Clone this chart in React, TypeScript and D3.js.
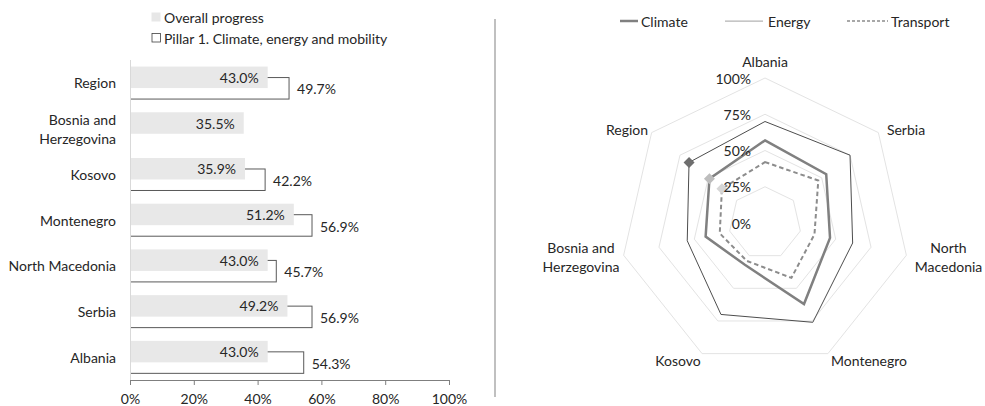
import React from "react";
import * as d3 from "d3";

// Bar chart: overall progress vs. Pillar 1 score by economy (top to bottom)
const barCategories = ["Region", "Bosnia and Herzegovina", "Kosovo", "Montenegro", "North Macedonia", "Serbia", "Albania"];
const overallProgress = [43.0, 35.5, 35.9, 51.2, 43.0, 49.2, 43.0];
const pillar1 = [49.7, null, 42.2, 56.9, 45.7, 56.9, 54.3];
const barTicks = [0, 20, 40, 60, 80, 100];

// Radar chart: sub-dimension scores, clockwise from the top
const radarAxes = ["Albania", "Serbia", "North Macedonia", "Montenegro", "Kosovo", "Bosnia and Herzegovina", "Region"];
const climate = [57, 54, 46, 62, 32, 42, 49];
const energy = [70, 75, 62, 76, 70, 55, 67];
const transport = [42, 47, 35, 42, 29, 32, 38];
const radarTicks = [0, 25, 50, 75, 100];

const FONT = "Lato, 'Noto Sans', sans-serif";
const FS = 14;
const TEXT = "#262626";

function splitLabel(s: string): string[] {
  if (s === "Bosnia and Herzegovina") return ["Bosnia and", "Herzegovina"];
  if (s === "North Macedonia") return ["North", "Macedonia"];
  return [s];
}

function BarPanel() {
  const x = d3.scaleLinear().domain([0, 100]).range([130.5, 449.5]);
  const y = d3.scaleBand<string>().domain(barCategories).range([60, 380]);
  const bh = 21.5;
  const fmt = (v: number) => v.toFixed(1) + "%";
  return (
    <g fontFamily={FONT} fontSize={FS} fill={TEXT}>
      {/* legend */}
      <rect x={151.5} y={12.5} width={9} height={9} fill="#e7e7e7" />
      <text x={164} y={17} dominantBaseline="central">Overall progress</text>
      <rect x={152} y={33.5} width={8.5} height={8.5} fill="#fff" stroke="#404040" strokeWidth={0.8} />
      <text x={164} y={38} dominantBaseline="central">Pillar 1. Climate, energy and mobility</text>

      {barCategories.map((c, i) => {
        const yc = (y(c) as number) + y.bandwidth() / 2;
        const p = pillar1[i];
        const o = overallProgress[i];
        // only the Bosnia label wraps on this axis
        const lines = c === "Bosnia and Herzegovina" ? splitLabel(c) : [c];
        return (
          <g key={c}>
            {p != null && (
              <rect x={x(0)} y={yc - 5.3} width={x(p) - x(0)} height={bh} fill="#fff" stroke="#595959" strokeWidth={1} />
            )}
            <rect x={x(0)} y={yc - 16.3} width={x(o) - x(0)} height={bh} fill="#e8e8e8" />
            <text x={x(o) - 9} y={yc - 5.5} textAnchor="end" dominantBaseline="central">{fmt(o)}</text>
            {p != null && (
              <text x={x(p) + 8} y={yc + 6} dominantBaseline="central">{fmt(p)}</text>
            )}
            {lines.map((l, k) => (
              <text key={l} x={116} y={yc + (k - (lines.length - 1) / 2) * 19} textAnchor="end" dominantBaseline="central">{l}</text>
            ))}
          </g>
        );
      })}

      {/* axes */}
      <line x1={x(0)} x2={x(0)} y1={60} y2={380} stroke="#d9d9d9" strokeWidth={1} />
      <line x1={x(0)} x2={x(100)} y1={380.5} y2={380.5} stroke="#7f7f7f" strokeWidth={1} />
      {barTicks.map((t) => (
        <g key={t}>
          <line x1={x(t)} x2={x(t)} y1={380} y2={385} stroke="#7f7f7f" strokeWidth={1} />
          <text x={x(t)} y={398} textAnchor="middle" dominantBaseline="central">{t + "%"}</text>
        </g>
      ))}
    </g>
  );
}

function RadarPanel() {
  const cx = 765;
  const cy = 223;
  const r = d3.scaleLinear().domain([0, 100]).range([0, 145]);
  const n = radarAxes.length;
  const angle = (i: number) => (i * 2 * Math.PI) / n;
  const pt = (i: number, v: number): [number, number] => [
    cx + r(v) * Math.sin(angle(i)),
    cy - r(v) * Math.cos(angle(i)),
  ];
  const radial = d3
    .lineRadial<number>()
    .angle((_, i) => angle(i))
    .radius((v) => r(v))
    .curve(d3.curveLinearClosed);

  const ring = (t: number) => radial(radarAxes.map(() => t)) as string;

  const diamond = (p: [number, number], fill: string) => {
    const s = 5.5;
    return (
      <path
        d={`M${p[0]},${p[1] - s}L${p[0] + s},${p[1]}L${p[0]},${p[1] + s}L${p[0] - s},${p[1]}Z`}
        fill={fill}
      />
    );
  };

  const labelPos: Record<string, [number, number]> = {
    Albania: [cx, 61],
    Serbia: [906, 129],
    "North Macedonia": [948.5, 257],
    Montenegro: [869, 360],
    Kosovo: [678, 360],
    "Bosnia and Herzegovina": [581, 257],
    Region: [627, 129],
  };

  const ri = n - 1;
  return (
    <g fontFamily={FONT} fontSize={FS} fill={TEXT}>
      {/* legend */}
      <line x1={620} x2={638} y1={21} y2={21} stroke="#808080" strokeWidth={2.5} />
      <text x={641} y={21} dominantBaseline="central">Climate</text>
      <line x1={725} x2={763} y1={21} y2={21} stroke="#b3b3b3" strokeWidth={1.25} />
      <text x={768} y={21} dominantBaseline="central">Energy</text>
      <line x1={847} x2={888} y1={21} y2={21} stroke="#8c8c8c" strokeWidth={1.6} strokeDasharray="3,2" />
      <text x={891} y={21} dominantBaseline="central">Transport</text>

      <g transform={`translate(${cx},${cy})`}>
        {radarTicks.slice(1).map((t) => (
          <path key={t} d={ring(t)} fill="none" stroke="#e3e3e3" strokeWidth={1} />
        ))}
        <path d={radial(energy) as string} fill="none" stroke="#4d4d4d" strokeWidth={1} />
        <path d={radial(climate) as string} fill="none" stroke="#808080" strokeWidth={2.5} />
        <path d={radial(transport) as string} fill="none" stroke="#8c8c8c" strokeWidth={2} strokeDasharray="4.5,3" />
      </g>
      {diamond(pt(ri, energy[ri]), "#6e6e6e")}
      {diamond(pt(ri, climate[ri]), "#bdbdbd")}
      {diamond(pt(ri, transport[ri]), "#d6d6d6")}

      {radarTicks.map((t) => (
        <text key={t} x={751} y={cy - r(t)} textAnchor="end" dominantBaseline="central">{t + "%"}</text>
      ))}

      {radarAxes.map((a) => {
        const [lx, ly] = labelPos[a];
        const lines = splitLabel(a);
        return (
          <g key={a}>
            {lines.map((l, k) => (
              <text key={l} x={lx} y={ly + (k - (lines.length - 1) / 2) * 19} textAnchor="middle" dominantBaseline="central">{l}</text>
            ))}
          </g>
        );
      })}
    </g>
  );
}

export default function App() {
  return (
    <div style={{ position: "fixed", left: 0, top: 0 }}>
      <svg width={985} height={406} style={{ display: "block", background: "#fff" }}>
        <BarPanel />
        <line x1={495} x2={495} y1={19} y2={397} stroke="#ababab" strokeWidth={1.5} />
        <RadarPanel />
      </svg>
    </div>
  );
}
